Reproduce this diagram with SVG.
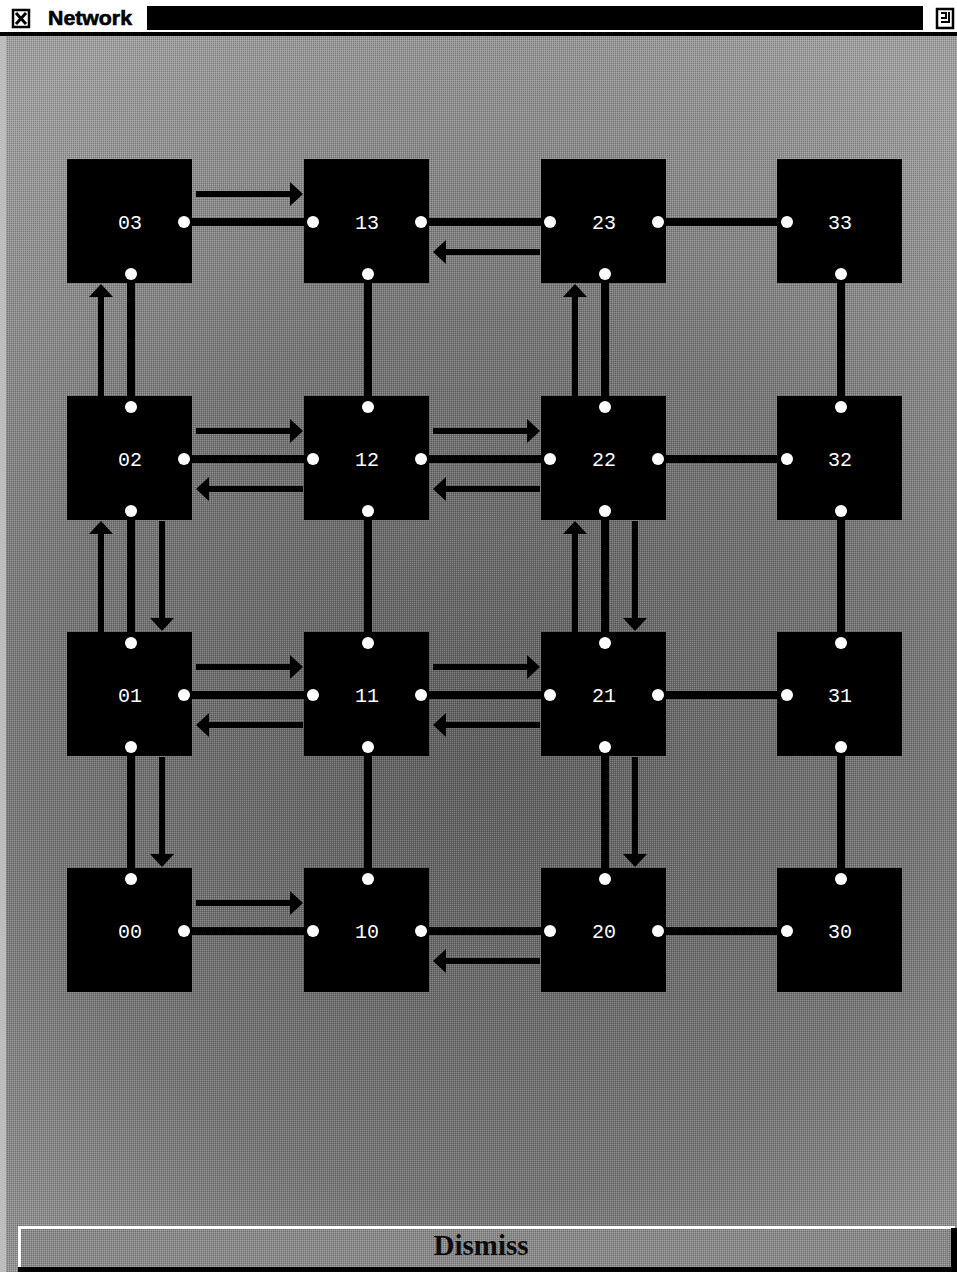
<svg xmlns="http://www.w3.org/2000/svg" width="957" height="1272" viewBox="0 0 957 1272">
<defs>
<radialGradient id="bg" cx="480" cy="760" r="800" gradientUnits="userSpaceOnUse">
<stop offset="0" stop-color="#5e5e5e"/>
<stop offset="0.55" stop-color="#767676"/>
<stop offset="1" stop-color="#a0a0a0"/>
</radialGradient>
<pattern id="dither" width="2" height="2" patternUnits="userSpaceOnUse">
<rect x="0" y="0" width="1" height="1" fill="#ffffff" opacity="0.2"/>
<rect x="1" y="1" width="1" height="1" fill="#000000" opacity="0.2"/>
</pattern>
<marker id="ah" viewBox="0 0 13 24" refX="0" refY="12" markerWidth="13" markerHeight="24" markerUnits="userSpaceOnUse" orient="auto">
<path d="M0,0 L13,12 L0,24 Z" fill="#000"/>
</marker>
<style>
.box{fill:#000}
.lbl{fill:#fff;font-family:"Liberation Mono","DejaVu Sans Mono",monospace;font-size:20px;text-anchor:middle}
.dot{fill:#fff}
.ln{stroke:#000;stroke-width:8;fill:none}
.ar{stroke:#000;stroke-width:6;fill:none;marker-end:url(#ah)}
</style>
</defs>

<!-- window background -->
<rect x="0" y="0" width="957" height="1272" fill="url(#bg)"/>
<rect x="0" y="0" width="957" height="1272" fill="url(#dither)"/>
<rect x="0" y="36" width="6" height="1236" fill="#bdbdbd"/>

<!-- title bar -->
<g id="titlebar">
<rect x="0" y="0" width="957" height="32" fill="#fff"/>
<rect x="0" y="32" width="957" height="4" fill="#000"/>
<rect x="13" y="10" width="16" height="17" fill="none" stroke="#000" stroke-width="2.5"/>
<path d="M16,13 L26,24 M26,13 L16,24" stroke="#000" stroke-width="3"/>
<text x="48" y="25" font-family="Liberation Sans, Arial, sans-serif" font-weight="bold" font-size="20" textLength="84" lengthAdjust="spacingAndGlyphs" fill="#000" stroke="#000" stroke-width="0.6">Network</text>
<rect x="147" y="6" width="776" height="24" fill="#000"/>
<rect x="937" y="9" width="16" height="19" fill="none" stroke="#000" stroke-width="2.5"/>
<path d="M941,13 L946,13 L946,18 L941,18 M949,12 L949,22 L941,22" stroke="#000" stroke-width="2" fill="none"/>
</g>

<!-- connectors -->
<g id="connectors">
<!-- horizontal lines -->
<line class="ln" x1="184" y1="222" x2="312" y2="222"/>
<line class="ln" x1="421" y1="222" x2="549" y2="222"/>
<line class="ln" x1="658" y1="222" x2="785" y2="222"/>
<line class="ln" x1="184" y1="459" x2="312" y2="459"/>
<line class="ln" x1="421" y1="459" x2="549" y2="459"/>
<line class="ln" x1="658" y1="459" x2="785" y2="459"/>
<line class="ln" x1="184" y1="695" x2="312" y2="695"/>
<line class="ln" x1="421" y1="695" x2="549" y2="695"/>
<line class="ln" x1="658" y1="695" x2="785" y2="695"/>
<line class="ln" x1="184" y1="931" x2="312" y2="931"/>
<line class="ln" x1="421" y1="931" x2="549" y2="931"/>
<line class="ln" x1="658" y1="931" x2="785" y2="931"/>
<!-- vertical lines -->
<line class="ln" x1="131" y1="273" x2="131" y2="406"/>
<line class="ln" x1="131" y1="510" x2="131" y2="642"/>
<line class="ln" x1="131" y1="746" x2="131" y2="878"/>
<line class="ln" x1="368" y1="273" x2="368" y2="406"/>
<line class="ln" x1="368" y1="510" x2="368" y2="642"/>
<line class="ln" x1="368" y1="746" x2="368" y2="878"/>
<line class="ln" x1="605" y1="273" x2="605" y2="406"/>
<line class="ln" x1="605" y1="510" x2="605" y2="642"/>
<line class="ln" x1="605" y1="746" x2="605" y2="878"/>
<line class="ln" x1="841" y1="273" x2="841" y2="406"/>
<line class="ln" x1="841" y1="510" x2="841" y2="642"/>
<line class="ln" x1="841" y1="746" x2="841" y2="878"/>

<!-- row 3 arrows -->
<line class="ar" x1="196" y1="194" x2="290" y2="194"/>
<line class="ar" x1="540" y1="252" x2="446" y2="252"/>
<!-- row 2 arrows -->
<line class="ar" x1="196" y1="431" x2="290" y2="431"/>
<line class="ar" x1="433" y1="431" x2="527" y2="431"/>
<line class="ar" x1="303" y1="489" x2="209" y2="489"/>
<line class="ar" x1="540" y1="489" x2="446" y2="489"/>
<!-- row 1 arrows -->
<line class="ar" x1="196" y1="667" x2="290" y2="667"/>
<line class="ar" x1="433" y1="667" x2="527" y2="667"/>
<line class="ar" x1="303" y1="725" x2="209" y2="725"/>
<line class="ar" x1="540" y1="725" x2="446" y2="725"/>
<!-- row 0 arrows -->
<line class="ar" x1="196" y1="903" x2="290" y2="903"/>
<line class="ar" x1="540" y1="961" x2="446" y2="961"/>
<!-- column 0 arrows -->
<line class="ar" x1="101" y1="396" x2="101" y2="297"/>
<line class="ar" x1="101" y1="632" x2="101" y2="534"/>
<line class="ar" x1="162" y1="521" x2="162" y2="618"/>
<line class="ar" x1="162" y1="757" x2="162" y2="854"/>
<!-- column 2 arrows -->
<line class="ar" x1="575" y1="396" x2="575" y2="297"/>
<line class="ar" x1="575" y1="632" x2="575" y2="534"/>
<line class="ar" x1="635" y1="521" x2="635" y2="618"/>
<line class="ar" x1="635" y1="757" x2="635" y2="854"/>
</g>

<!-- nodes row 3 -->
<g id="n03"><rect class="box" x="67" y="159" width="125" height="124"/><text class="lbl" x="130" y="229">03</text>
<circle class="dot" cx="184" cy="222" r="6"/><circle class="dot" cx="131" cy="274" r="6"/></g>
<g id="n13"><rect class="box" x="304" y="159" width="125" height="124"/><text class="lbl" x="367" y="229">13</text>
<circle class="dot" cx="313" cy="222" r="6"/><circle class="dot" cx="421" cy="222" r="6"/><circle class="dot" cx="368" cy="274" r="6"/></g>
<g id="n23"><rect class="box" x="541" y="159" width="125" height="124"/><text class="lbl" x="604" y="229">23</text>
<circle class="dot" cx="550" cy="222" r="6"/><circle class="dot" cx="658" cy="222" r="6"/><circle class="dot" cx="605" cy="274" r="6"/></g>
<g id="n33"><rect class="box" x="777" y="159" width="125" height="124"/><text class="lbl" x="840" y="229">33</text>
<circle class="dot" cx="787" cy="222" r="6"/><circle class="dot" cx="841" cy="274" r="6"/></g>

<!-- nodes row 2 -->
<g id="n02"><rect class="box" x="67" y="396" width="125" height="124"/><text class="lbl" x="130" y="466">02</text>
<circle class="dot" cx="131" cy="407" r="6"/><circle class="dot" cx="184" cy="459" r="6"/><circle class="dot" cx="131" cy="511" r="6"/></g>
<g id="n12"><rect class="box" x="304" y="396" width="125" height="124"/><text class="lbl" x="367" y="466">12</text>
<circle class="dot" cx="368" cy="407" r="6"/><circle class="dot" cx="313" cy="459" r="6"/><circle class="dot" cx="421" cy="459" r="6"/><circle class="dot" cx="368" cy="511" r="6"/></g>
<g id="n22"><rect class="box" x="541" y="396" width="125" height="124"/><text class="lbl" x="604" y="466">22</text>
<circle class="dot" cx="605" cy="407" r="6"/><circle class="dot" cx="550" cy="459" r="6"/><circle class="dot" cx="658" cy="459" r="6"/><circle class="dot" cx="605" cy="511" r="6"/></g>
<g id="n32"><rect class="box" x="777" y="396" width="125" height="124"/><text class="lbl" x="840" y="466">32</text>
<circle class="dot" cx="841" cy="407" r="6"/><circle class="dot" cx="787" cy="459" r="6"/><circle class="dot" cx="841" cy="511" r="6"/></g>

<!-- nodes row 1 -->
<g id="n01"><rect class="box" x="67" y="632" width="125" height="124"/><text class="lbl" x="130" y="702">01</text>
<circle class="dot" cx="131" cy="643" r="6"/><circle class="dot" cx="184" cy="695" r="6"/><circle class="dot" cx="131" cy="747" r="6"/></g>
<g id="n11"><rect class="box" x="304" y="632" width="125" height="124"/><text class="lbl" x="367" y="702">11</text>
<circle class="dot" cx="368" cy="643" r="6"/><circle class="dot" cx="313" cy="695" r="6"/><circle class="dot" cx="421" cy="695" r="6"/><circle class="dot" cx="368" cy="747" r="6"/></g>
<g id="n21"><rect class="box" x="541" y="632" width="125" height="124"/><text class="lbl" x="604" y="702">21</text>
<circle class="dot" cx="605" cy="643" r="6"/><circle class="dot" cx="550" cy="695" r="6"/><circle class="dot" cx="658" cy="695" r="6"/><circle class="dot" cx="605" cy="747" r="6"/></g>
<g id="n31"><rect class="box" x="777" y="632" width="125" height="124"/><text class="lbl" x="840" y="702">31</text>
<circle class="dot" cx="841" cy="643" r="6"/><circle class="dot" cx="787" cy="695" r="6"/><circle class="dot" cx="841" cy="747" r="6"/></g>

<!-- nodes row 0 -->
<g id="n00"><rect class="box" x="67" y="868" width="125" height="124"/><text class="lbl" x="130" y="938">00</text>
<circle class="dot" cx="131" cy="879" r="6"/><circle class="dot" cx="184" cy="931" r="6"/></g>
<g id="n10"><rect class="box" x="304" y="868" width="125" height="124"/><text class="lbl" x="367" y="938">10</text>
<circle class="dot" cx="368" cy="879" r="6"/><circle class="dot" cx="313" cy="931" r="6"/><circle class="dot" cx="421" cy="931" r="6"/></g>
<g id="n20"><rect class="box" x="541" y="868" width="125" height="124"/><text class="lbl" x="604" y="938">20</text>
<circle class="dot" cx="605" cy="879" r="6"/><circle class="dot" cx="550" cy="931" r="6"/><circle class="dot" cx="658" cy="931" r="6"/></g>
<g id="n30"><rect class="box" x="777" y="868" width="125" height="124"/><text class="lbl" x="840" y="938">30</text>
<circle class="dot" cx="841" cy="879" r="6"/><circle class="dot" cx="787" cy="931" r="6"/></g>

<!-- dismiss button -->
<g id="dismiss">
<rect x="18" y="1226" width="937" height="46" fill="#8a8a8a"/>
<rect x="18" y="1226" width="937" height="46" fill="url(#dither)"/>
<rect x="18" y="1226" width="937" height="3" fill="#fff"/>
<rect x="18" y="1226" width="3" height="46" fill="#fff"/>
<rect x="18" y="1267" width="939" height="5" fill="#000"/>
<rect x="951" y="1228" width="6" height="44" fill="#000"/>
<text x="481" y="1255" font-family="Liberation Serif, Times New Roman, serif" font-weight="bold" font-size="29" text-anchor="middle" fill="#0a0a0a">Dismiss</text>
</g>
</svg>
